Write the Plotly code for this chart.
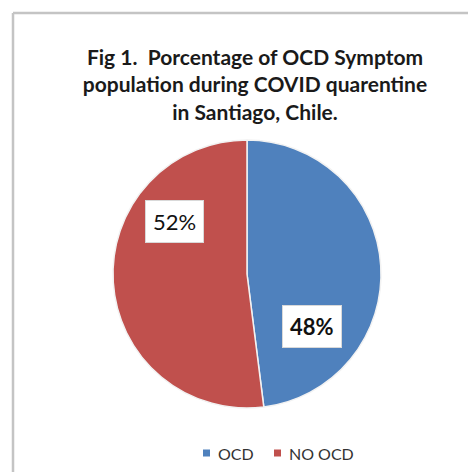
import plotly.graph_objects as go

# Survey result: share of respondents with OCD symptoms
categories = ["OCD", "NO OCD"]
values = [48, 52]
colors = ["#4F81BD", "#C0504D"]

W, H = 468, 472
FONT = "Lato, Carlito, sans-serif"
# pie placement in pixels
cx, cy, r = 247, 274, 134

fig = go.Figure(
    go.Pie(
        labels=categories,
        values=values,
        sort=False,
        direction="clockwise",
        rotation=0,
        marker=dict(colors=colors, line=dict(color="#f2f2f2", width=1.5)),
        textinfo="none",
        hoverinfo="label+percent",
        domain=dict(x=[(cx - r) / W, (cx + r) / W], y=[(H - cy - r) / H, (H - cy + r) / H]),
        showlegend=False,
    )
)

# percentage labels in white boxes, text taken from the values
total = sum(values)
label_pos = {"OCD": (312, 326, True), "NO OCD": (174, 221, False)}
for cat, v in zip(categories, values):
    px, py, bold = label_pos[cat]
    txt = f"{round(100 * v / total)}%"
    fig.add_annotation(
        x=px / W, y=1 - py / H, xref="paper", yref="paper",
        xanchor="center", yanchor="middle",
        text=f"<b>{txt}</b>" if bold else txt,
        showarrow=False,
        font=dict(family=FONT, size=22, color="#111111"),
        bgcolor="white",
        bordercolor="#d9d9d9", borderwidth=1, borderpad=7,
    )

# compact legend row below the pie: small swatch followed by the category name
legend_y = 453
legend_x = [206.5, 277.5]
sw = 3.5
for cat, col, lx in zip(categories, colors, legend_x):
    fig.add_shape(type="rect", xref="paper", yref="paper",
                  x0=(lx - sw) / W, x1=(lx + sw) / W,
                  y0=1 - (legend_y + sw) / H, y1=1 - (legend_y - sw) / H,
                  fillcolor=col, line=dict(width=0))
    fig.add_annotation(x=(lx + 9) / W, y=1 - legend_y / H, xref="paper", yref="paper",
                       xanchor="left", yanchor="middle", showarrow=False,
                       text=cat, font=dict(family=FONT, size=16, color="#333333"))

# chart frame (top and left edges visible)
fig.add_shape(type="line", xref="paper", yref="paper",
              x0=13 / W, x1=1.01, y0=1 - 13 / H, y1=1 - 13 / H,
              line=dict(color="#c4c4c4", width=2.5))
fig.add_shape(type="line", xref="paper", yref="paper",
              x0=13 / W, x1=13 / W, y0=1 - 13 / H, y1=-0.01,
              line=dict(color="#c4c4c4", width=2.5))

fig.update_layout(
    width=W, height=H,
    margin=dict(l=0, r=0, t=0, b=0),
    paper_bgcolor="white",
    plot_bgcolor="white",
    showlegend=False,
    title=dict(
        text="<b>Fig 1.  Porcentage of OCD Symptom<br>population during COVID quarentine<br>in Santiago, Chile.</b>",
        x=255 / W, xanchor="center",
        y=1 - 65 / H, yanchor="top",
        font=dict(family=FONT, size=21, color="#1a1a1a"),
    ),
)

fig.write_html("out.html")
